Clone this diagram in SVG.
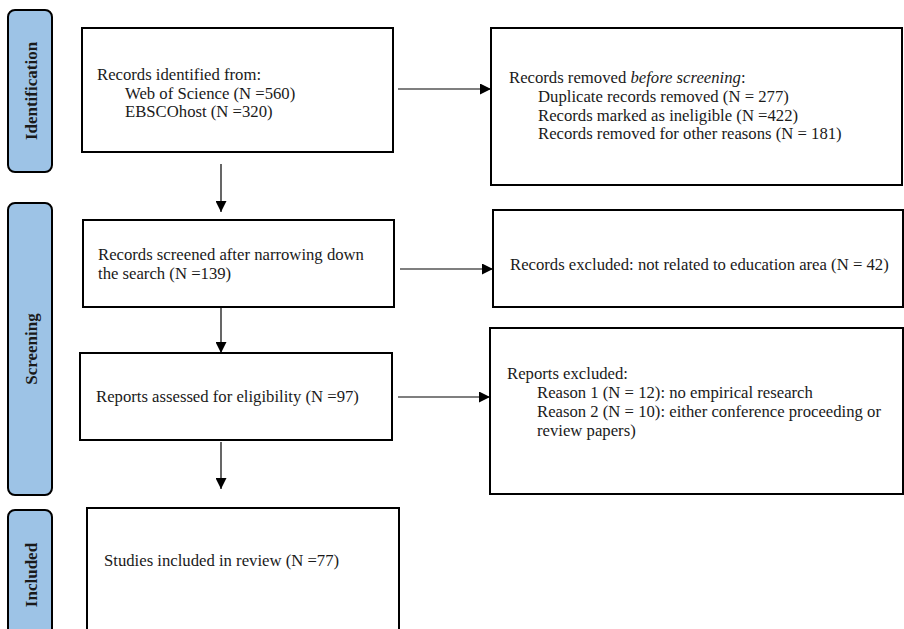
<svg xmlns="http://www.w3.org/2000/svg" width="904" height="629" viewBox="0 0 904 629">
<defs>
<marker id="ah" viewBox="0 0 10 10" refX="10" refY="5" markerWidth="13" markerHeight="11" markerUnits="userSpaceOnUse" orient="auto">
<path d="M0,0 L10,5 L0,10 z" fill="#000"/>
</marker>
</defs>
<style>
.box{fill:#fff;stroke:#000;stroke-width:2}
.side{fill:#9dc3e6;stroke:#000;stroke-width:2}
.t{font-family:"Liberation Serif","Times New Roman",serif;font-size:16.7px;fill:#1a1a1a}
.s{font-family:"Liberation Serif","Times New Roman",serif;font-size:17px;font-weight:bold;fill:#1a1a1a;text-anchor:middle}
.c{stroke:#000;stroke-width:1.2;fill:none;marker-end:url(#ah)}
</style>
<rect width="904" height="629" fill="#fff"/>
<g id="phase-identification">
<rect class="side" x="8" y="10" width="44" height="162" rx="7"/>
<text class="s" transform="translate(37,91) rotate(-90)">Identification</text>
</g>
<g id="phase-screening">
<rect class="side" x="8" y="203" width="44" height="292" rx="7"/>
<text class="s" transform="translate(37,349) rotate(-90)">Screening</text>
</g>
<g id="phase-included">
<rect class="side" x="8" y="510" width="44" height="130" rx="7"/>
<text class="s" transform="translate(37,575) rotate(-90)">Included</text>
</g>
<g id="n1">
<rect class="box" x="82" y="28" width="311" height="124"/>
<text class="t" x="97" y="80">Records identified from:</text>
<text class="t" x="125" y="98.5">Web of Science (N =560)</text>
<text class="t" x="125" y="117">EBSCOhost (N =320)</text>
</g>
<g id="n2">
<rect class="box" x="491" y="28" width="411" height="157"/>
<text class="t" x="509" y="83">Records removed <tspan font-style="italic">before screening</tspan>:</text>
<text class="t" x="538" y="102">Duplicate records removed (N = 277)</text>
<text class="t" x="538" y="120.5">Records marked as ineligible (N =422)</text>
<text class="t" x="538" y="139">Records removed for other reasons (N = 181)</text>
</g>
<g id="n3">
<rect class="box" x="83" y="220" width="311" height="87"/>
<text class="t" x="98" y="260">Records screened after narrowing down</text>
<text class="t" x="98" y="279">the search (N =139)</text>
</g>
<g id="n4">
<rect class="box" x="493" y="210" width="410" height="97"/>
<text class="t" x="510" y="270">Records excluded: not related to education area (N = 42)</text>
</g>
<g id="n5">
<rect class="box" x="80" y="353" width="312" height="87"/>
<text class="t" x="96" y="402">Reports assessed for eligibility (N =97)</text>
</g>
<g id="n6">
<rect class="box" x="490" y="328" width="413" height="166"/>
<text class="t" x="507" y="379">Reports excluded:</text>
<text class="t" x="537" y="398">Reason 1 (N = 12): no empirical research</text>
<text class="t" x="537" y="417">Reason 2 (N = 10): either conference proceeding or</text>
<text class="t" x="537" y="436">review papers)</text>
</g>
<g id="n7">
<rect class="box" x="87" y="508" width="312" height="122"/>
<text class="t" x="104" y="566">Studies included in review (N =77)</text>
</g>
<g id="connectors">
<line class="c" x1="221" y1="164" x2="221" y2="212"/>
<line class="c" x1="398" y1="89" x2="491" y2="89"/>
<line class="c" x1="400" y1="269" x2="493" y2="269"/>
<line class="c" x1="221" y1="307" x2="221" y2="353"/>
<line class="c" x1="398" y1="397" x2="490" y2="397"/>
<line class="c" x1="221" y1="442" x2="221" y2="489"/>
</g>
</svg>
